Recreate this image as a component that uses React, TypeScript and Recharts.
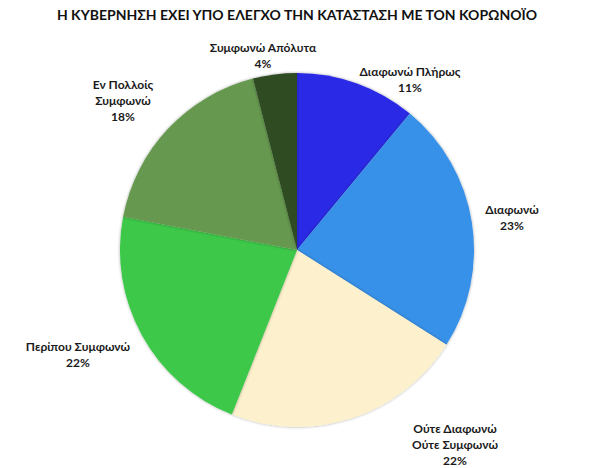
import React from "react";
import { PieChart, Pie, Cell } from "recharts";

// Survey responses, clockwise from 12 o'clock
const categories = [
  "Διαφωνώ Πλήρως",
  "Διαφωνώ",
  "Ούτε Διαφωνώ Ούτε Συμφωνώ",
  "Περίπου Συμφωνώ",
  "Εν Πολλοίς Συμφωνώ",
  "Συμφωνώ Απόλυτα",
];
const shares = [11, 23, 22, 22, 18, 4];

// How each category label wraps onto lines
const labelLines = [
  ["Διαφωνώ Πλήρως"],
  ["Διαφωνώ"],
  ["Ούτε Διαφωνώ", "Ούτε Συμφωνώ"],
  ["Περίπου Συμφωνώ"],
  ["Εν Πολλοίς", "Συμφωνώ"],
  ["Συμφωνώ Απόλυτα"],
];

const COLORS = ["#2b2be6", "#3891e8", "#fdf0cc", "#3cc84a", "#66994f", "#2f4c22"];

// Centre of each label block, placed around the pie
const LABEL_ANCHORS: [number, number][] = [
  [410, 79],
  [512, 217],
  [455, 444],
  [78, 354],
  [123, 100],
  [263, 55],
];

const TITLE = "Η ΚΥΒΕΡΝΗΣΗ ΕΧΕΙ ΥΠΟ ΕΛΕΓΧΟ ΤΗΝ ΚΑΤΑΣΤΑΣΗ ΜΕ ΤΟΝ ΚΟΡΩΝΟΪΟ";

const data = categories.map((name, i) => ({ name, value: shares[i] }));

const FONT = "Lato, 'Open Sans', sans-serif";
const LINE_H = 16;

const renderLabel = (props: any) => {
  const i = props.index as number;
  const [x, y] = LABEL_ANCHORS[i];
  const lines = [...labelLines[i], `${Math.round(props.percent * 100)}%`];
  const top = y - ((lines.length - 1) * LINE_H) / 2;
  return (
    <text
      key={`lbl-${i}`}
      x={x}
      y={top}
      textAnchor="middle"
      dominantBaseline="central"
      fontFamily={FONT}
      fontWeight={700}
      fontSize={12}
      fill="#1a1a1a"
    >
      {lines.map((l, k) => (
        <tspan key={k} x={x} y={top + k * LINE_H}>
          {l}
        </tspan>
      ))}
    </text>
  );
};

export default function App() {
  return (
    <div style={{ position: "absolute", left: 0, top: 0, width: 595, height: 468, background: "#fff" }}>
      <PieChart width={595} height={468} margin={{ top: 0, right: 0, bottom: 0, left: 0 }}>
        <defs>
          <filter id="pieShadow" x="-10%" y="-10%" width="120%" height="120%">
            <feGaussianBlur in="SourceAlpha" stdDeviation="1.5" />
            <feOffset dx="0" dy="0" result="b" />
            <feComponentTransfer>
              <feFuncA type="linear" slope="0.35" />
            </feComponentTransfer>
            <feMerge>
              <feMergeNode />
              <feMergeNode in="SourceGraphic" />
            </feMerge>
          </filter>
        </defs>
        <text
          x={297}
          y={14}
          textAnchor="middle"
          dominantBaseline="central"
          fontFamily={FONT}
          fontWeight={700}
          fontSize={14}
          fill="#111"
        >
          {TITLE}
        </text>
        <Pie
          data={data}
          dataKey="value"
          nameKey="name"
          cx={297}
          cy={250}
          outerRadius={177}
          startAngle={90}
          endAngle={-270}
          stroke="none"
          label={renderLabel}
          labelLine={false}
          isAnimationActive={false}
          style={{ filter: "url(#pieShadow)" }}
        >
          {data.map((d, i) => (
            <Cell key={d.name} fill={COLORS[i]} />
          ))}
        </Pie>
      </PieChart>
    </div>
  );
}
